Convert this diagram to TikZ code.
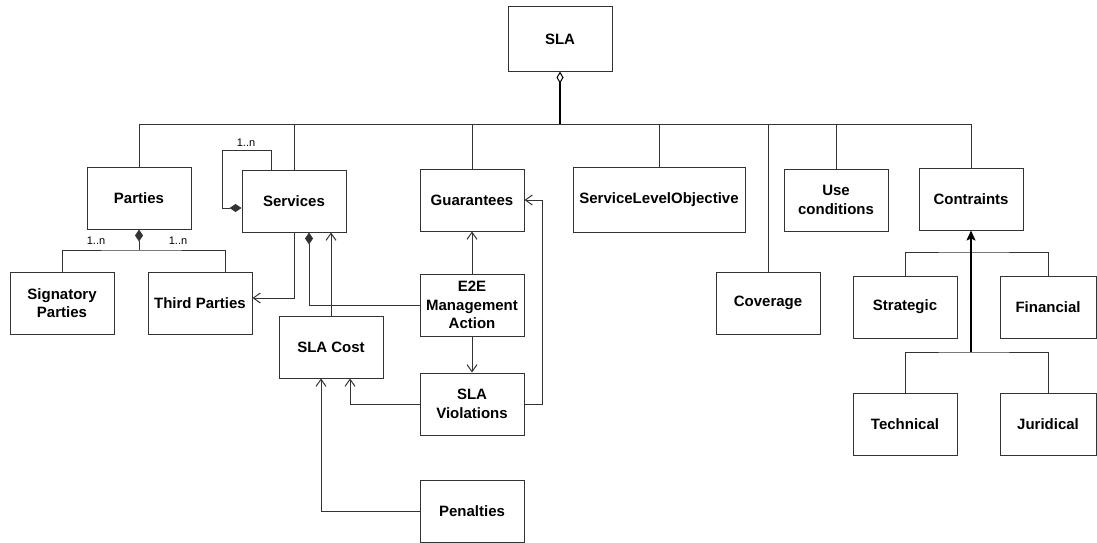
\documentclass[tikz,border=0pt]{standalone}
\usepackage{fontspec}
\setmainfont{Liberation Sans}
\usetikzlibrary{calc, arrows.meta}

\begin{document}
\begin{tikzpicture}
      [x=1pt,y=-1pt
      ,cls/.style={draw=black!80,line width=1pt,fill=white,align=center,inner sep=2pt
                  ,minimum width=104pt,minimum height=62pt
                  ,font=\bfseries\fontsize{15}{18.5}\selectfont}
      ,lnk/.style={draw=black!80,line width=1pt}
      ,arr/.style={lnk,-{Straight Barb[length=7pt,width=10pt]}}
      ,comp/.style={lnk,{Diamond[length=12pt,width=8pt]}-}
      ,agg/.style={draw=black,line width=2pt,{Diamond[open,length=12pt,width=7pt,line width=1pt,fill=white]}-}
      ,gen/.style={draw=black,line width=1.5pt,-{Stealth[length=10pt,width=9pt,inset=2pt]}}
      ,mult/.style={font=\fontsize{11}{13}\selectfont,inner sep=1pt}
      ]
        \useasboundingbox (0,0) rectangle (1097,543);

        % classes
        \node[cls,minimum height=64pt] (sla) at (560,39) {SLA};
        \node[cls] (parties)  at (139,198) {Parties};
        \node[cls] (services) at (294,201) {Services};
        \node[cls] (guar)     at (472,200) {Guarantees};
        \node[cls,minimum width=172pt,minimum height=65pt] (slo) at (659,200) {ServiceLevelObjective};
        \node[cls] (usecond)  at (836,200) {Use\\conditions};
        \node[cls] (contr)    at (971,199) {Contraints};
        \node[cls] (signat)   at (62,303)  {Signatory\\Parties};
        \node[cls] (third)    at (200,303) {Third Parties};
        \node[cls] (e2e)      at (472,305) {E2E\\Management\\Action};
        \node[cls] (cost)     at (331,347) {SLA Cost};
        \node[cls] (viol)     at (472,404) {SLA\\Violations};
        \node[cls] (pen)      at (472,511) {Penalties};
        \node[cls] (cover)    at (768,303) {Coverage};
        \node[cls] (strat)    at (905,307) {Strategic};
        \node[cls,minimum width=96pt] (fin) at (1048,307) {Financial};
        \node[cls] (tech)     at (905,424) {Technical};
        \node[cls,minimum width=96pt] (jur) at (1048,424) {Juridical};

        \coordinate (bus)  at (560,124);
        \coordinate (pbus) at (139,250);
        \coordinate (tp)   at (225,250);
        \coordinate (cb1)  at (971,252);
        \coordinate (cb2)  at (971,352);

        % SLA bus
        \draw[lnk] (parties.north) -- (parties.north |- bus) -- (contr.north |- bus) -- (contr.north);
        \foreach \n in {services, guar, slo, usecond, cover}
        {
            \draw[lnk] (\n.north) -- (\n.north |- bus);
        }
        \draw[agg] (sla.south) -- (bus);

        % parties
        \draw[comp] (parties.south) -- (pbus);
        \draw[lnk] (signat.north) |- (pbus) -- (tp) -- (tp |- third.north);
        \node[mult] (m1) at (96,241) {1..n};
        \node[mult,fill=white] (m2) at (178,241) {1..n};

        % services
        \draw[comp] ($(services.west)+(0,7)$) -- ++(-19,0) |- ($(services.north)+(-23,-19)$) -- ($(services.north)+(-23,0)$);
        \node[mult] (m3) at (246,143) {1..n};
        \draw[arr] (services.south) |- ($(third.east)+(0,-5)$);
        \draw[comp] ($(services.south)+(15,0)$) |- (e2e.west);
        \draw[arr] (cost.north) -- (cost.north |- services.south);

        % guarantees, violations, cost
        \draw[arr] (e2e.north) -- (guar.south);
        \draw[arr] (e2e.south) -- (viol.north);
        \draw[arr] (viol.west) -| ($(cost.south)+(19,0)$);
        \draw[arr] (viol.east) -- ++(18,0) |- (guar.east);
        \draw[arr] (pen.west) -| ($(cost.south)+(-10,0)$);

        % constraints
        \draw[lnk] (strat.north) |- (cb1) -| (fin.north);
        \draw[lnk] (tech.north) |- (cb2) -| (jur.north);
        \draw[gen] (cb2) -- (contr.south);

\end{tikzpicture}
\end{document}
